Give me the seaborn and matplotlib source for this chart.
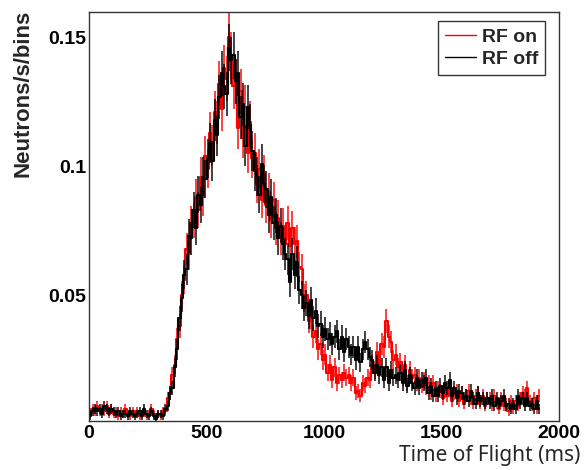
#Time of flight spectra, RF on / RF off
import numpy as np
import pandas as pd
import matplotlib
matplotlib.use('Agg')
import matplotlib.pyplot as plt
from matplotlib.ticker import MultipleLocator
import seaborn as sns

#bin centres are 10 ms wide, starting at 5 ms
bin_width = 10
n_bins = 192

#RF off (black), one row per 100 ms
rf_off = [
    0.003, 0.005, 0.006, 0.005, 0.006, 0.004, 0.007, 0.006, 0.005, 0.006,
    0.005, 0.004, 0.005, 0.003, 0.004, 0.004, 0.003, 0.005, 0.004, 0.003,
    0.004, 0.005, 0.003, 0.006, 0.004, 0.003, 0.005, 0.003, 0.002, 0.004,
    0.004, 0.003, 0.006, 0.007, 0.012, 0.014, 0.022, 0.029, 0.041, 0.049,
    0.058, 0.060, 0.073, 0.072, 0.083, 0.076, 0.089, 0.085, 0.096, 0.095,
    0.103, 0.109, 0.102, 0.118, 0.112, 0.127, 0.136, 0.131, 0.128, 0.146,
    0.141, 0.143, 0.133, 0.136, 0.119, 0.124, 0.108, 0.123, 0.116, 0.106,
    0.098, 0.096, 0.089, 0.101, 0.093, 0.091, 0.081, 0.088, 0.078, 0.081,
    0.072, 0.077, 0.070, 0.066, 0.064, 0.055, 0.066, 0.058, 0.063, 0.052,
    0.050, 0.045, 0.047, 0.042, 0.048, 0.041, 0.044, 0.038, 0.039, 0.034,
    0.037, 0.033, 0.035, 0.031, 0.034, 0.036, 0.029, 0.034, 0.028, 0.033,
    0.030, 0.027, 0.030, 0.025, 0.030, 0.024, 0.029, 0.032, 0.029, 0.026,
    0.025, 0.020, 0.023, 0.019, 0.022, 0.017, 0.022, 0.016, 0.021, 0.018,
    0.019, 0.017, 0.020, 0.016, 0.021, 0.015, 0.019, 0.016, 0.014, 0.018,
    0.014, 0.017, 0.016, 0.018, 0.012, 0.015, 0.011, 0.014, 0.011, 0.015,
    0.012, 0.016, 0.014, 0.017, 0.011, 0.014, 0.010, 0.013, 0.012, 0.010,
    0.011, 0.009, 0.013, 0.010, 0.008, 0.012, 0.009, 0.010, 0.008, 0.010,
    0.008, 0.011, 0.007, 0.010, 0.008, 0.009, 0.011, 0.007, 0.008, 0.006,
    0.008, 0.006, 0.011, 0.008, 0.010, 0.007, 0.010, 0.007, 0.008, 0.006,
    0.009, 0.006,
]

#RF on (red)
rf_on = [
    0.004, 0.006, 0.005, 0.007, 0.005, 0.006, 0.005, 0.007, 0.004, 0.006,
    0.004, 0.005, 0.003, 0.005, 0.004, 0.006, 0.004, 0.003, 0.005, 0.004,
    0.005, 0.003, 0.004, 0.005, 0.003, 0.004, 0.006, 0.004, 0.003, 0.004,
    0.003, 0.005, 0.005, 0.010, 0.012, 0.019, 0.023, 0.033, 0.038, 0.050,
    0.056, 0.068, 0.066, 0.078, 0.079, 0.088, 0.083, 0.096, 0.088, 0.104,
    0.099, 0.113, 0.108, 0.121, 0.117, 0.132, 0.122, 0.138, 0.134, 0.150,
    0.143, 0.131, 0.133, 0.115, 0.129, 0.111, 0.123, 0.105, 0.117, 0.103,
    0.105, 0.093, 0.099, 0.087, 0.097, 0.085, 0.090, 0.079, 0.087, 0.076,
    0.080, 0.072, 0.077, 0.070, 0.078, 0.069, 0.076, 0.070, 0.071, 0.061,
    0.060, 0.049, 0.050, 0.040, 0.042, 0.034, 0.036, 0.029, 0.031, 0.025,
    0.027, 0.020, 0.023, 0.017, 0.022, 0.016, 0.019, 0.017, 0.020, 0.018,
    0.019, 0.016, 0.018, 0.012, 0.013, 0.011, 0.016, 0.015, 0.018, 0.017,
    0.023, 0.021, 0.028, 0.022, 0.031, 0.030, 0.040, 0.034, 0.032, 0.025,
    0.027, 0.022, 0.024, 0.018, 0.023, 0.016, 0.021, 0.018, 0.019, 0.016,
    0.018, 0.015, 0.017, 0.014, 0.016, 0.012, 0.016, 0.011, 0.014, 0.013,
    0.010, 0.013, 0.011, 0.014, 0.009, 0.012, 0.013, 0.009, 0.012, 0.008,
    0.011, 0.013, 0.010, 0.008, 0.011, 0.012, 0.008, 0.011, 0.007, 0.010,
    0.010, 0.007, 0.011, 0.008, 0.006, 0.010, 0.007, 0.008, 0.005, 0.009,
    0.006, 0.009, 0.007, 0.010, 0.012, 0.011, 0.014, 0.009, 0.007, 0.010,
    0.006, 0.011,
]

series_names = ['RF on', 'RF off']
series_colors = ['#ff0000', '#000000']

xtick_values = [0, 500, 1000, 1500, 2000]
xtick_labels = ['0', '500', '1000', '1500', '2000']
ytick_values = [0.05, 0.1, 0.15]
ytick_labels = ['0.05', '0.1', '0.15']

#poisson-like statistical error scale (sqrt of counts after normalisation)
err_scale = 0.024

t = bin_width / 2 + bin_width * np.arange(n_bins)
df = pd.concat([
    pd.DataFrame({'t': t, 'rate': rf_on, 'run': 'RF on'}),
    pd.DataFrame({'t': t, 'rate': rf_off, 'run': 'RF off'}),
])
df['err'] = err_scale * np.sqrt(df['rate'])

sns.set_style('white')
plt.rcParams['font.family'] = ['Liberation Sans', 'DejaVu Sans']

fig = plt.figure(figsize=(5.86, 4.70), dpi=100)
ax = fig.add_axes([0.152, 0.104, 0.802, 0.870])

for name, col in zip(series_names, series_colors):
    sub = df[df['run'] == name]
    ax.vlines(sub['t'], sub['rate'] - sub['err'], sub['rate'] + sub['err'],
              color=col, lw=1.3, alpha=0.8)
    sns.lineplot(data=sub, x='t', y='rate', color=col, lw=1.5,
                 drawstyle='steps-mid', label=name, ax=ax)

ax.set_xlim(0, 2000)
ax.set_ylim(0.0012, 0.1597)

ax.set_xticks(xtick_values)
ax.set_xticklabels(xtick_labels)
ax.set_yticks(ytick_values)
ax.set_yticklabels(ytick_labels)
ax.xaxis.set_minor_locator(MultipleLocator(100))
ax.yaxis.set_minor_locator(MultipleLocator(0.01))
ax.tick_params(which='both', direction='in', top=False, right=False,
               colors='#333333', labelcolor='black')
ax.tick_params(which='major', length=12, width=1.0, labelsize=14)
ax.tick_params(which='minor', length=6, width=1.0)
ax.tick_params(axis='x', pad=3)
ax.tick_params(axis='y', pad=2)
for lab in ax.get_xticklabels() + ax.get_yticklabels():
    lab.set_fontweight('bold')

for sp in ax.spines.values():
    sp.set_color('#333333')
    sp.set_linewidth(1.0)

ax.set_xlabel('Time of Flight (ms)', family=['Noto Sans', 'DejaVu Sans'],
              fontsize=15, ha='right', va='top')
ax.xaxis.set_label_coords(1.045, -0.058)
ax.set_ylabel('Neutrons/s/bins', fontsize=16, fontweight='bold', ha='right',
              va='center', rotation_mode='anchor')
ax.yaxis.set_label_coords(-0.14, 1.005)

leg = ax.legend(loc='upper right', bbox_to_anchor=(0.970, 0.978),
                borderaxespad=0, fancybox=False, framealpha=1,
                edgecolor='#333333', prop={'weight': 'bold', 'size': 14},
                handlelength=1.6, handletextpad=0.3, borderpad=0.35,
                labelspacing=0.25)
leg.get_frame().set_linewidth(1.0)
for h in leg.get_lines():
    h.set_linewidth(1.0)

fig.savefig('out.png', dpi=100)
